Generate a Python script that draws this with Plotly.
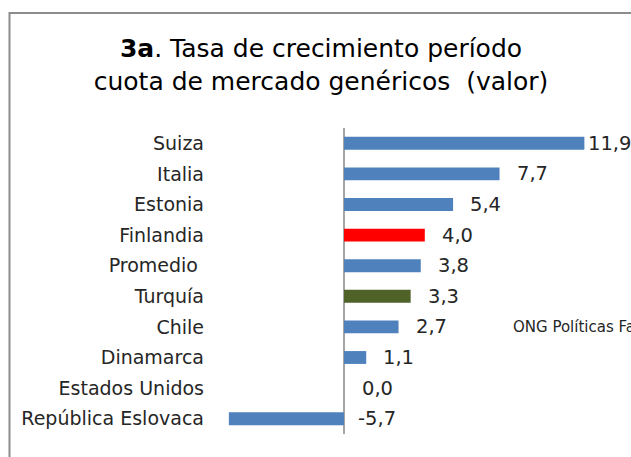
import plotly.graph_objects as go

categories = ["Suiza", "Italia", "Estonia", "Finlandia", "Promedio\u00a0", "Turquía",
              "Chile", "Dinamarca", "Estados Unidos", "República Eslovaca"]
values = [11.9, 7.7, 5.4, 4.0, 3.8, 3.3, 2.7, 1.1, 0.0, -5.7]

BLUE = "#4F81BD"
RED = "#FF0000"
GREEN = "#4F6228"
bar_colors = [BLUE, BLUE, BLUE, RED, BLUE, GREEN, BLUE, BLUE, BLUE, BLUE]
label_shift = [2, 15, 15, 15, 15, 15, 15, 15, 16, 12]

FONT = "Century Gothic, DejaVu Sans, sans-serif"
TXT = "#262626"

W, H = 631, 457
L, R, T, B = 215, 3, 128, 23
pw = W - L - R
ph = H - T - B
ZERO = 344          # x pixel of zero
PX_PER_UNIT = 20.2

fig = go.Figure()
fig.add_trace(go.Bar(
    y=categories, x=values, orientation="h",
    marker=dict(color=bar_colors, line=dict(width=0)),
    hoverinfo="skip",
))

annotations = []
for c, v, s in zip(categories, values, label_shift):
    annotations.append(dict(
        x=max(v, 0), y=c, xref="x", yref="y",
        text=f"{v:.1f}".replace(".", ","),
        showarrow=False, xanchor="left", yanchor="middle", xshift=s,
        font=dict(family=FONT, size=19.5, color=TXT),
    ))
annotations.append(dict(
    x=(511 - L) / pw, y=1 - (327 - T) / ph, xref="paper", yref="paper",
    text="ONG Políticas Farmacéuticas", showarrow=False,
    xanchor="left", yanchor="middle",
    font=dict(family=FONT, size=15, color=TXT),
))

fig.update_layout(
    width=W, height=H,
    margin=dict(l=L, r=R, t=T, b=B, pad=0),
    paper_bgcolor="white", plot_bgcolor="white",
    showlegend=False,
    bargap=0.58,
    title=dict(
        text="<b>3a</b>. Tasa de crecimiento período<br>cuota de mercado genéricos \u00a0(valor)",
        x=321 / W, xanchor="center", xref="container",
        y=1 - 57 / H, yanchor="top", yref="container",
        font=dict(family=FONT, size=25, color="#000000"),
    ),
    xaxis=dict(
        range=[(L - ZERO) / PX_PER_UNIT, (W - R - ZERO) / PX_PER_UNIT],
        showgrid=False, showticklabels=False, ticks="", showline=False,
        zeroline=True, zerolinecolor="#A6A6A6", zerolinewidth=2,
        fixedrange=True,
    ),
    yaxis=dict(
        autorange="reversed", showgrid=False, showline=False, ticks="",
        tickfont=dict(family=FONT, size=19, color=TXT),
        ticklabelstandoff=10,
        fixedrange=True,
    ),
    annotations=annotations,
    shapes=[dict(
        type="rect", xref="paper", yref="paper",
        x0=(9.5 - L) / pw, x1=1.3, y0=-0.3, y1=1 + (T - 13) / ph,
        line=dict(color="#8C8C8C", width=2), fillcolor="rgba(0,0,0,0)",
        layer="below",
    )],
)

fig.write_html(
    "out.html",
    config={"displayModeBar": False, "staticPlot": True},
    post_script="document.body.style.margin='0';document.body.style.overflow='hidden';",
)
